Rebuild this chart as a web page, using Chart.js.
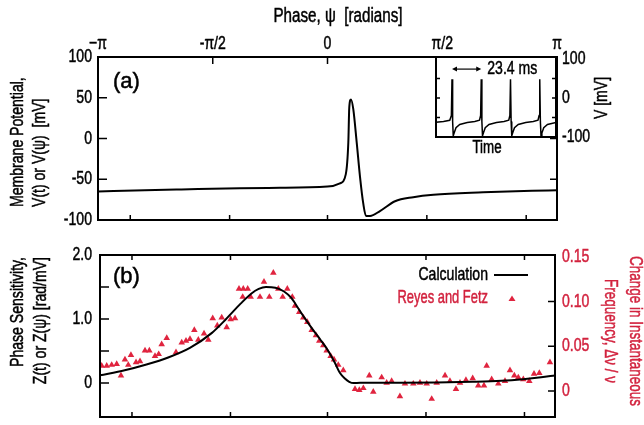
<!DOCTYPE html>
<html>
<head>
<meta charset="utf-8">
<script src="https://cdn.jsdelivr.net/npm/chart.js@4.4.0/dist/chart.umd.min.js"></script>
<style>
  html, body { margin: 0; padding: 0; background: #fff; }
  #wrap { position: relative; width: 644px; height: 425px; overflow: hidden; }
  canvas { position: absolute; }
  #chartA { left: 0; top: 0; width: 644px; height: 235px; }
  #chartB { left: 0; top: 235px; width: 644px; height: 190px; }
  #inset { left: 380px; top: 40px; width: 264px; height: 130px; }
</style>
</head>
<body>
<div id="wrap">
  <canvas id="chartA" width="644" height="235"></canvas>
  <canvas id="chartB" width="644" height="190"></canvas>
  <canvas id="inset" width="264" height="130"></canvas>
</div>
<script>
const PI = Math.PI;

// (a) membrane potential over one cycle, phase in radians
const vPhase = [-3.1416, -2.5, -2.0, -1.2, -0.65, 0.0, 0.17, 0.25, 0.285, 0.298, 0.322, 0.353, 0.40, 0.445, 0.49, 0.527, 0.582, 0.718, 0.924, 1.174, 1.45, 2.13, 2.8, 3.1416];
const vMembrane = [-65, -63.5, -62.5, -61, -60.5, -59, -55, -44, -5, 38, 48, 36, -5, -47, -80, -95, -95, -89, -77, -72, -69, -66, -64, -63.5];

const phaseTicks = [-PI, -PI / 2, 0, PI / 2, PI];
const phaseTickLabels = ['−π', '-π/2', '0', 'π/2', 'π'];
const timeTickPhases = [-2.70, -1.34, 0, 1.36, 2.72]; // 5 ms steps
const vTicks = [-100, -50, 0, 50, 100];

// inset: voltage trace vs time (ms)
const insetTime = [0, 6, 11, 12.3, 12.8, 13.3, 13.8, 14.5, 16, 19, 25, 31, 34.8, 35.7, 36.2, 36.7, 37.2, 37.9, 39.4, 42.4, 48.4, 54.4, 58.2, 59.1, 59.6, 60.1, 60.6, 61.3, 62.8, 65.8, 71.8, 77.8, 81.6, 82.5, 83, 83.5, 84, 84.7, 86.2, 89.2, 96];
const insetVolt = [-62, -60, -57, -45, 48, -60, -97, -90, -76, -68, -63, -60, -57, -45, 48, -60, -97, -90, -76, -68, -63, -60, -57, -45, 48, -60, -97, -90, -76, -68, -63, -60, -57, -45, 48, -60, -97, -90, -76, -68, -63];
const insetVTicks = [-100, 0, 100];
const periodStart = 12.8, periodEnd = 36.2, periodLabel = '23.4 ms';

// (b) phase sensitivity, calculation
const zPhase = [-3.1416, -2.80, -2.50, -2.20, -1.90, -1.60, -1.40, -1.20, -1.05, -0.95, -0.85, -0.72, -0.60, -0.50, -0.40, -0.30, -0.20, -0.10, 0.00, 0.10, 0.17, 0.24, 0.30, 0.36, 0.45, 1.00, 1.50, 2.00, 2.40, 2.70, 2.95, 3.1416];
const zCalc = [0.12, 0.20, 0.29, 0.40, 0.55, 0.78, 1.00, 1.24, 1.40, 1.47, 1.50, 1.49, 1.43, 1.33, 1.16, 0.99, 0.83, 0.68, 0.52, 0.32, 0.16, 0.07, 0.02, 0.0, 0.005, 0.005, 0.01, 0.02, 0.035, 0.06, 0.09, 0.12];
const zTickValues = [0, 1, 2];
const zTickLabels = ['0', '1.0', '2.0'];
const zTickMarks = [0, 0.5, 1.0, 1.5];

// (b) Reyes and Fetz, change in instantaneous frequency
const rfPhase = [-3.118, -3.049, -2.98, -2.911, -2.852, -2.797, -2.751, -2.714, -2.644, -2.589, -2.52, -2.46, -2.382, -2.331, -2.29, -2.22, -2.092, -2.013, -1.954, -1.899, -1.839, -1.784, -1.705, -1.646, -1.585, -1.522, -1.461, -1.392, -1.337, -1.277, -1.222, -1.163, -1.102, -1.171, -1.061, -0.932, -0.877, -0.803, -0.748, -0.679, -0.619, -0.555, -0.486, -0.449, -0.39, -0.334, -0.279, -0.218, -0.159, -0.113, -0.058, -0.011, 0.044, 0.09, 0.149, 0.218, 0.38, 0.439, 0.495, 0.577, 0.632, 0.748, 0.817, 0.886, 1.0, 1.07, 1.185, 1.277, 1.37, 1.439, 1.508, 1.623, 1.691, 1.774, 1.83, 1.912, 2.005, 2.082, 2.161, 2.198, 2.267, 2.359, 2.451, 2.52, 2.58, 2.635, 2.704, 2.787, 2.852, 2.925, 3.072];
const rfFreq = [0.028, 0.028, 0.029, 0.030, 0.017, 0.035, 0.029, 0.040, 0.032, 0.033, 0.045, 0.045, 0.039, 0.041, 0.052, 0.059, 0.043, 0.054, 0.056, 0.058, 0.068, 0.057, 0.064, 0.057, 0.081, 0.073, 0.082, 0.071, 0.080, 0.081, 0.114, 0.114, 0.114, 0.105, 0.105, 0.105, 0.122, 0.105, 0.132, 0.114, 0.105, 0.114, 0.105, 0.095, 0.088, 0.082, 0.077, 0.068, 0.062, 0.056, 0.051, 0.045, 0.039, 0.035, 0.029, 0.023, 0.002, 0.001, 0.003, 0.017, -0.001, 0.015, 0.009, 0.011, -0.006, 0.008, 0.008, 0.009, 0.008, -0.009, 0.009, 0.017, 0.011, 0.002, 0.009, 0.012, 0.014, 0.006, 0.006, 0.028, 0.013, 0.008, 0.011, 0.023, 0.017, 0.015, 0.013, 0.011, 0.019, 0.020, 0.032];
const fTickValues = [0, 0.05, 0.10, 0.15];
const fTickLabels = ['0', '0.05', '0.10', '0.15'];
const fTickMarks = [0, 0.05, 0.10];

const FAMILY = '"Liberation Sans", Arial, sans-serif';
const FONT = '19px ' + FAMILY;
const RED = '#d2223e';
const TRI = '#e0243f';

Chart.defaults.font.family = FAMILY;
Chart.defaults.font.size = 16;
Chart.defaults.color = '#000';
Chart.defaults.animation = false;

function xy(xs, ys) { return xs.map((x, i) => ({ x: x, y: ys[i] })); }
function fixWidth(w) { return s => { s.width = w; }; }
function fixHeight(h) { return s => { s.height = h; }; }
function setTicks(vals) { return s => { s.ticks = vals.map(v => ({ value: v })); }; }

// text squeezed along its direction, the original uses a tall narrow face
function drawText(ctx, n) {
  ctx.save();
  ctx.font = n.font || FONT;
  ctx.fillStyle = n.color || '#000';
  ctx.strokeStyle = n.color || '#000';
  ctx.lineWidth = 0.5;
  ctx.textAlign = n.align || 'center';
  ctx.textBaseline = 'middle';
  ctx.translate(n.x, n.y);
  if (n.rotate) ctx.rotate(n.rotate);
  ctx.scale(n.sx || 0.74, 1);
  ctx.fillText(n.text, 0, 0);
  ctx.strokeText(n.text, 0, 0);
  ctx.restore();
}

// tick labels of a scale, drawn in the narrow style at the scale's own positions
function tickText(axes) {
  return {
    id: 'tickText',
    afterDraw(chart) {
      const a = chart.chartArea;
      axes.forEach(ax => {
        const s = chart.scales[ax.scale];
        s.ticks.forEach(t => {
          const p = s.getPixelForValue(t.value);
          const n = { text: t.label, color: ax.color };
          if (ax.side === 'left') Object.assign(n, { x: a.left - ax.pad, y: p, align: 'right' });
          if (ax.side === 'right') Object.assign(n, { x: a.right + ax.pad, y: p, align: 'left' });
          if (ax.side === 'top') Object.assign(n, { x: p, y: a.top - ax.pad, align: 'center' });
          drawText(chart.ctx, n);
        });
      });
    }
  };
}

// box round the plot area plus inward tick marks
function frame(marks, fillWhite) {
  return {
    id: 'frame',
    beforeDatasetsDraw(chart) {
      if (!fillWhite) return;
      const a = chart.chartArea;
      chart.ctx.save();
      chart.ctx.fillStyle = '#fff';
      chart.ctx.fillRect(a.left, a.top, a.right - a.left, a.bottom - a.top);
      chart.ctx.restore();
    },
    afterDatasetsDraw(chart) {
      const { ctx, chartArea: a, scales } = chart;
      ctx.save();
      ctx.strokeStyle = '#000';
      ctx.lineWidth = 1.5;
      ctx.beginPath();
      marks.forEach(m => {
        const s = scales[m.scale];
        m.values.forEach(v => {
          const p = s.getPixelForValue(v);
          if (m.side === 'left') { ctx.moveTo(a.left, p); ctx.lineTo(a.left + m.len, p); }
          if (m.side === 'right') { ctx.moveTo(a.right, p); ctx.lineTo(a.right - m.len, p); }
          if (m.side === 'top') { ctx.moveTo(p, a.top); ctx.lineTo(p, a.top + m.len); }
          if (m.side === 'bottom') { ctx.moveTo(p, a.bottom); ctx.lineTo(p, a.bottom - m.len); }
        });
      });
      ctx.stroke();
      ctx.lineWidth = 2;
      ctx.strokeRect(a.left, a.top, a.right - a.left, a.bottom - a.top);
      ctx.restore();
    }
  };
}

function notes(items) {
  return {
    id: 'notes',
    afterDraw(chart) { items.forEach(n => drawText(chart.ctx, n)); }
  };
}

const hiddenGrid = { display: false, drawTicks: false };
const noBorder = { display: false };
const quietTicks = { display: false, autoSkip: false };

// ---- panel (a)
new Chart(document.getElementById('chartA'), {
  type: 'line',
  data: {
    datasets: [{
      data: xy(vPhase, vMembrane),
      borderColor: '#000', borderWidth: 2, pointRadius: 0,
      cubicInterpolationMode: 'monotone', fill: false
    }]
  },
  options: {
    responsive: false,
    layout: { padding: { top: 0, left: 0, right: 87, bottom: 15 } },
    plugins: { legend: { display: false }, tooltip: { enabled: false } },
    scales: {
      x: {
        type: 'linear', position: 'top', min: -PI, max: PI,
        afterFit: fixHeight(57), afterBuildTicks: setTicks(phaseTicks),
        grid: hiddenGrid, border: noBorder,
        ticks: Object.assign({ callback: (v, i) => phaseTickLabels[i] }, quietTicks)
      },
      y: {
        min: -100, max: 100,
        afterFit: fixWidth(98), afterBuildTicks: setTicks(vTicks),
        grid: hiddenGrid, border: noBorder, ticks: quietTicks
      }
    }
  },
  plugins: [
    frame([
      { scale: 'x', side: 'top', values: phaseTicks, len: 7 },
      { scale: 'x', side: 'bottom', values: timeTickPhases, len: 5 },
      { scale: 'y', side: 'left', values: [-50, 0, 50], len: 9 },
      { scale: 'y', side: 'right', values: [-50, 0, 50], len: 7 }
    ]),
    tickText([
      { scale: 'x', side: 'top', pad: 13 },
      { scale: 'y', side: 'left', pad: 6 }
    ]),
    notes([
      { text: 'Phase, ψ  [radians]', x: 338, y: 16, font: '20px ' + FAMILY, sx: 0.76 },
      { text: '(a)', x: 113, y: 82, align: 'left', sx: 1, font: '22px ' + FAMILY },
      { text: 'Membrane Potential,', x: 18, y: 207, align: 'left', rotate: -PI / 2 },
      { text: 'V(t) or V(ψ)  [mV]', x: 40, y: 207, align: 'left', rotate: -PI / 2 }
    ])
  ]
});

// ---- panel (b)
new Chart(document.getElementById('chartB'), {
  type: 'line',
  data: {
    datasets: [
      {
        label: 'Calculation', data: xy(zPhase, zCalc), yAxisID: 'y',
        borderColor: '#000', borderWidth: 2, pointRadius: 0,
        cubicInterpolationMode: 'monotone', fill: false
      },
      {
        label: 'Reyes and Fetz', type: 'scatter', data: xy(rfPhase, rfFreq), yAxisID: 'y2',
        showLine: false, pointStyle: 'triangle', pointRadius: 3.8,
        backgroundColor: TRI, borderColor: TRI, borderWidth: 0
      }
    ]
  },
  options: {
    responsive: false,
    layout: { padding: { top: 20, left: 0, right: 0, bottom: 8 } },
    plugins: { legend: { display: false }, tooltip: { enabled: false } },
    scales: {
      x: { type: 'linear', min: -PI, max: PI, display: false },
      y: {
        position: 'left', min: -0.53, max: 2.0,
        afterFit: fixWidth(100), afterBuildTicks: setTicks(zTickValues),
        grid: hiddenGrid, border: noBorder,
        ticks: Object.assign({ callback: (v, i) => zTickLabels[i] }, quietTicks)
      },
      y2: {
        position: 'right', min: -0.0292, max: 0.1519,
        afterFit: fixWidth(89), afterBuildTicks: setTicks(fTickValues),
        grid: hiddenGrid, border: noBorder,
        ticks: Object.assign({ callback: (v, i) => fTickLabels[i] }, quietTicks)
      }
    }
  },
  plugins: [
    frame([
      { scale: 'x', side: 'top', values: timeTickPhases, len: 5 },
      { scale: 'x', side: 'bottom', values: timeTickPhases, len: 5 },
      { scale: 'y', side: 'left', values: zTickMarks, len: 9 },
      { scale: 'y2', side: 'right', values: fTickMarks, len: 7 }
    ]),
    tickText([
      { scale: 'y', side: 'left', pad: 8 },
      { scale: 'y2', side: 'right', pad: 7, color: RED }
    ]),
    notes([
      { text: '(b)', x: 113, y: 42, align: 'left', sx: 1, font: '22px ' + FAMILY },
      { text: 'Phase Sensitivity,', x: 18, y: 22, align: 'right', rotate: -PI / 2 },
      { text: 'Z(t) or Z(ψ) [rad/mV]', x: 41, y: 22, align: 'right', rotate: -PI / 2 },
      { text: 'Change in Instantaneous', x: 635, y: 96, rotate: PI / 2, color: RED, sx: 0.71 },
      { text: 'Frequency, Δν / ν', x: 610, y: 96, rotate: PI / 2, color: RED, sx: 0.71 }
    ]),
    {
      id: 'legendB',
      afterDraw(chart) {
        const ctx = chart.ctx;
        const ds = chart.data.datasets;
        drawText(ctx, { text: ds[0].label, x: 488, y: 40, align: 'right' });
        drawText(ctx, { text: ds[1].label, x: 488, y: 63, align: 'right', sx: 0.68, color: RED });
        ctx.save();
        ctx.strokeStyle = '#000';
        ctx.lineWidth = 2;
        ctx.beginPath(); ctx.moveTo(494, 40); ctx.lineTo(528, 40); ctx.stroke();
        ctx.fillStyle = TRI;
        ctx.beginPath();
        ctx.moveTo(512, 60.5); ctx.lineTo(515.5, 66); ctx.lineTo(508.5, 66);
        ctx.closePath(); ctx.fill();
        ctx.restore();
      }
    }
  ]
});

// ---- inset: spike train
new Chart(document.getElementById('inset'), {
  type: 'line',
  data: {
    datasets: [{
      data: xy(insetTime, insetVolt),
      borderColor: '#000', borderWidth: 1.5, pointRadius: 0, tension: 0, fill: false
    }]
  },
  options: {
    responsive: false,
    layout: { padding: { top: 17, left: 56, right: 0, bottom: 0 } },
    plugins: { legend: { display: false }, tooltip: { enabled: false } },
    scales: {
      x: {
        type: 'linear', min: 0, max: 96,
        afterFit: fixHeight(33),
        grid: hiddenGrid, border: noBorder, ticks: quietTicks
      },
      y: {
        position: 'right', min: -100, max: 105,
        afterFit: fixWidth(88), afterBuildTicks: setTicks(insetVTicks),
        grid: hiddenGrid, border: noBorder, ticks: quietTicks
      }
    }
  },
  plugins: [
    frame([
      { scale: 'y', side: 'left', values: [-50, 0, 50], len: 4 },
      { scale: 'y', side: 'right', values: [-50, 0, 50], len: 4 }
    ], true),
    tickText([{ scale: 'y', side: 'right', pad: 6 }]),
    notes([
      { text: 'Time', x: 107, y: 108, font: '18px ' + FAMILY },
      { text: 'V [mV]', x: 222, y: 58, rotate: -PI / 2 }
    ]),
    {
      id: 'period',
      afterDraw(chart) {
        const { ctx, scales } = chart;
        const x1 = scales.x.getPixelForValue(periodStart);
        const x2 = scales.x.getPixelForValue(periodEnd);
        const y = scales.y.getPixelForValue(74);
        ctx.save();
        ctx.strokeStyle = '#000';
        ctx.fillStyle = '#000';
        ctx.lineWidth = 1.2;
        ctx.beginPath(); ctx.moveTo(x1 + 2, y); ctx.lineTo(x2 - 2, y); ctx.stroke();
        ctx.beginPath();
        ctx.moveTo(x1, y); ctx.lineTo(x1 + 5, y - 2.5); ctx.lineTo(x1 + 5, y + 2.5); ctx.closePath();
        ctx.moveTo(x2, y); ctx.lineTo(x2 - 5, y - 2.5); ctx.lineTo(x2 - 5, y + 2.5); ctx.closePath();
        ctx.fill();
        ctx.restore();
        drawText(ctx, { text: periodLabel, x: x2 + 6, y: y, align: 'left' });
      }
    }
  ]
});
</script>
</body>
</html>
